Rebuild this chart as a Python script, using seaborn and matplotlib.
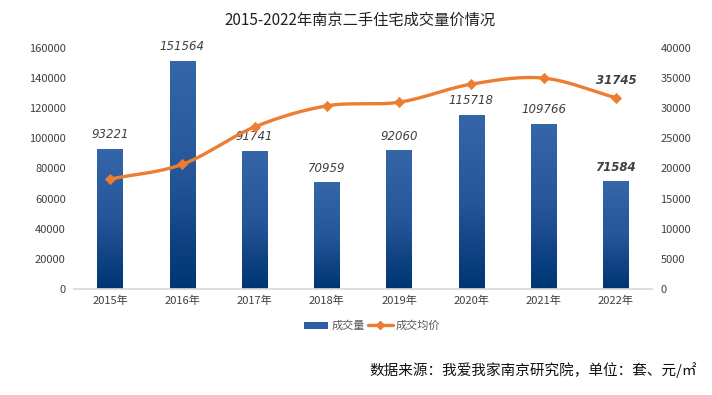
import numpy as np
import pandas as pd
import matplotlib
matplotlib.use("Agg")
import matplotlib.pyplot as plt
import seaborn as sns
from matplotlib.colors import LinearSegmentedColormap

years = ["2015年", "2016年", "2017年", "2018年", "2019年", "2020年", "2021年", "2022年"]
volume = [93221, 151564, 91741, 70959, 92060, 115718, 109766, 71584]
price = [18250, 20700, 26900, 30400, 31000, 34000, 35000, 31745]
left_ticks = [0, 20000, 40000, 60000, 80000, 100000, 120000, 140000, 160000]
right_ticks = [0, 5000, 10000, 15000, 20000, 25000, 30000, 35000, 40000]

sns.set_theme(style="white")
plt.rcParams['font.family'] = ['Noto Sans CJK SC', 'DejaVu Sans']

df = pd.DataFrame({"year": years, "volume": volume, "price": price})

fig = plt.figure(figsize=(7.12, 3.95), dpi=100)
ax = fig.add_axes([74/712, 1-289/395, 578/712, 241/395])

sns.barplot(data=df, x="year", y="volume", ax=ax, color="#2E5FA3", width=0.35, saturation=1)
ax.set_ylim(0, 160000)
ax.set_xlim(-0.5, len(years)-0.5)

# gradient fill on bars
cmap = LinearSegmentedColormap.from_list("g", ["#003472", "#25569A", "#3466A9"])
grad = np.linspace(0, 1, 256).reshape(-1, 1)
for p in ax.patches:
    x0, y0 = p.get_x(), p.get_y()
    w, h = p.get_width(), p.get_height()
    p.set_facecolor("none")
    p.set_edgecolor("none")
    im = ax.imshow(grad, extent=[x0, x0+w, y0, y0+h], origin="lower", aspect="auto", cmap=cmap, zorder=2)
    im.set_clip_path(p)
ax.set_xlim(-0.5, len(years)-0.5)
ax.set_ylim(0, 160000)

for i, v in enumerate(volume):
    bold = (i == len(volume)-1)
    ax.text(i, v + 5000, str(v), ha="center", va="bottom", fontsize=8.5, style="italic",
            color="#404040", fontweight="bold" if bold else "normal", family="DejaVu Sans")

ax.set_yticks(left_ticks)
ax.set_yticklabels([str(t) for t in left_ticks], fontsize=8, color="#404040")
ax.set_xlabel("")
ax.set_ylabel("")
ax.tick_params(axis="x", labelsize=8, colors="#404040", length=0, pad=5)
ax.tick_params(axis="y", length=0, pad=6)
for s in ["top", "right", "left"]:
    ax.spines[s].set_visible(False)
ax.spines["bottom"].set_color("#D9D9D9")

ax2 = ax.twinx()
ax2.set_ylim(0, 40000)
ax2.set_yticks(right_ticks)
ax2.set_yticklabels([str(t) for t in right_ticks], fontsize=8, color="#404040")
ax2.tick_params(axis="y", length=0, pad=6)
for s in ["top", "right", "left", "bottom"]:
    ax2.spines[s].set_visible(False)

# smoothed curve (Catmull-Rom) through data points
xs = np.arange(len(price), dtype=float)
ys = np.array(price, dtype=float)
px = np.concatenate([[2*xs[0]-xs[1]], xs, [2*xs[-1]-xs[-2]]])
py = np.concatenate([[2*ys[0]-ys[1]], ys, [2*ys[-1]-ys[-2]]])
cx, cy = [], []
for k in range(1, len(px)-2):
    t = np.linspace(0, 1, 30)
    p0, p1, p2, p3 = py[k-1], py[k], py[k+1], py[k+2]
    q0, q1, q2, q3 = px[k-1], px[k], px[k+1], px[k+2]
    cy.append(0.5*((2*p1) + (-p0+p2)*t + (2*p0-5*p1+4*p2-p3)*t**2 + (-p0+3*p1-3*p2+p3)*t**3))
    cx.append(0.5*((2*q1) + (-q0+q2)*t + (2*q0-5*q1+4*q2-q3)*t**2 + (-q0+3*q1-3*q2+q3)*t**3))
ax2.plot(np.concatenate(cx), np.concatenate(cy), color="#ED7D31", lw=2.4, zorder=3, solid_capstyle="round")
sns.scatterplot(x=xs, y=ys, ax=ax2, marker="D", s=28, color="#ED7D31", edgecolor="#ED7D31", zorder=4, legend=False)
ax2.set_xlim(-0.5, len(years)-0.5)
ax2.text(xs[-1], ys[-1] + 1800, str(price[-1]), ha="center", va="bottom", fontsize=8.5,
         style="italic", fontweight="bold", color="#404040", family="DejaVu Sans")

fig.text(360/712, 1-20/395, "2015-2022年南京二手住宅成交量价情况", ha="center", va="center", fontsize=11, color="#222222")

# legend
from matplotlib.patches import Patch
from matplotlib.lines import Line2D
handles = [Patch(facecolor="#2E5FA3", edgecolor="none"),
           Line2D([0], [0], color="#ED7D31", lw=2.4, marker="D", markersize=4)]
fig.legend(handles, ["成交量", "成交均价"], loc="center", bbox_to_anchor=(372/712, 1-326/395), ncol=2,
           frameon=False, fontsize=8, handlelength=2.2, columnspacing=0.3, handletextpad=0.3,
           labelcolor="#595959")

fig.text(697/712, 1-370/395, "数据来源：我爱我家南京研究院，单位：套、元/㎡", ha="right", va="center",
         fontsize=10.5, color="#111111")

fig.savefig("out.png", dpi=100)
